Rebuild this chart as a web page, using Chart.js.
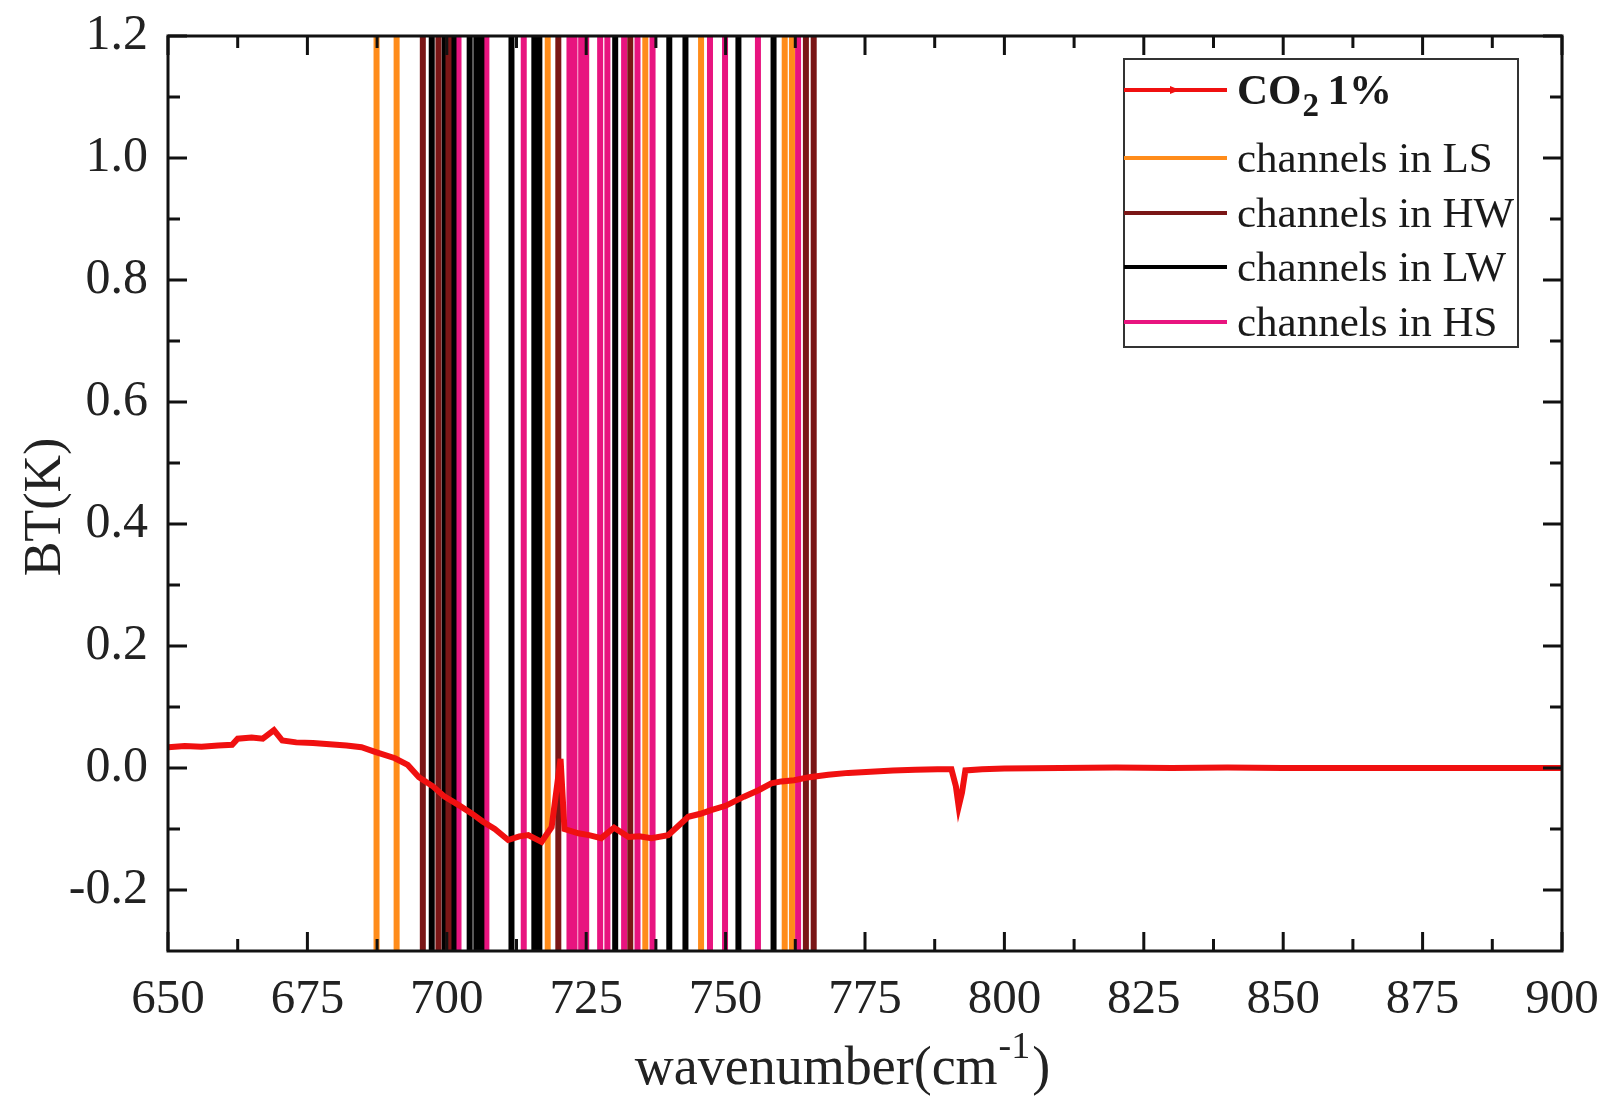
<!DOCTYPE html>
<html lang="en">
<head>
  <meta charset="UTF-8">
  <script src="https://cdn.jsdelivr.net/npm/chart.js@4.4.1/dist/chart.umd.min.js"></script>
  <title>CO2 1% channels</title>
  <style>
    html, body { margin: 0; padding: 0; background: #fff; }
    #wrap { width: 1617px; height: 1117px; }
  </style>
</head>
<body>
  <div id="wrap"><canvas id="myChart" width="1617" height="1117"></canvas></div>
  <script>
    // tick labels
    const xTicks = [650, 675, 700, 725, 750, 775, 800, 825, 850, 875, 900]
    const yTicks = [-0.2, 0.0, 0.2, 0.4, 0.6, 0.8, 1.0, 1.2]

    // CO2 1% curve
    const co2X = [650, 653, 656, 659, 661.5, 662.5, 665, 667, 669, 670.5, 673, 676, 679, 682, 684.7,
      687, 690.7, 693, 695, 697.5, 699.6, 702, 704.4, 706.5, 708.6, 711, 713, 714.6, 717, 718.8,
      720.4, 721.1, 723.6, 725.5, 727.7, 730, 732.6, 734.5, 736.7, 739.7, 741.5, 743.3, 745.5, 747.4,
      750, 753.3, 756, 758.2, 760, 762.3, 765, 768.4, 772, 776, 780, 784, 788, 790.5, 791.3, 791.8,
      792.4, 793, 796, 800, 810, 820, 830, 840, 850, 860, 870, 880, 890, 900]
    const co2Y = [0.034, 0.036, 0.035, 0.037, 0.038, 0.048, 0.050, 0.048, 0.062, 0.045, 0.042, 0.041, 0.039, 0.037, 0.034,
      0.027, 0.016, 0.005, -0.015, -0.030, -0.047, -0.060, -0.074, -0.088, -0.100, -0.118, -0.112, -0.110, -0.121, -0.097,
      0.015, -0.100, -0.107, -0.110, -0.115, -0.098, -0.113, -0.112, -0.115, -0.110, -0.095, -0.080, -0.075, -0.069,
      -0.062, -0.047, -0.036, -0.025, -0.022, -0.020, -0.015, -0.011, -0.008, -0.006, -0.004, -0.003, -0.002, -0.002, -0.030, -0.063,
      -0.040, -0.004, -0.002, -0.001, 0.000, 0.001, 0.000, 0.001, 0.000, 0.000, 0.000, 0.000, 0.000, 0.000]

    // channel wavenumbers per group
    const lsChannels = [687.4, 691.0, 718.1, 735.6, 745.6, 760.6, 761.9]
    const hwChannels = [695.7, 698.5, 700.3, 720.0, 732.9, 764.4, 765.8]
    const lwChannels = [697.3, 699.6, 701.2, 704.1, 705.3, 706.2, 711.6, 715.7, 716.6, 730.2, 739.9, 742.8, 752.3, 758.6]
    const hsChannels = [702.1, 707.1, 713.8, 722.0, 722.9, 724.1, 725.0, 727.5, 728.8, 731.8, 734.2, 736.9, 747.2, 749.9, 755.8, 763.0]

    const yMin = -0.3, yMax = 1.2
    const serif = "'Liberation Serif', 'Times New Roman', serif"

    function vlines(list) {
      let pts = []
      list.forEach(w => {
        pts.push({x: w, y: yMin}, {x: w, y: yMax}, {x: w, y: null})
      })
      return pts
    }

    const groups = [
      {label: 'channels in LS', color: '#ff8c1a', data: lsChannels},
      {label: 'channels in HW', color: '#7a1616', data: hwChannels},
      {label: 'channels in LW', color: '#000000', data: lwChannels},
      {label: 'channels in HS', color: '#e8147f', data: hsChannels}
    ]

    let datasets = [{
      label: 'CO2 1%',
      data: co2X.map((x, i) => ({x: x, y: co2Y[i]})),
      borderColor: '#f01010',
      borderWidth: 6,
      pointRadius: 0,
      tension: 0
    }]
    groups.forEach(g => {
      datasets.push({
        label: g.label,
        data: vlines(g.data),
        borderColor: g.color,
        borderWidth: 6,
        pointRadius: 0,
        spanGaps: false
      })
    })

    // frame, inward ticks, axis titles and the boxed legend
    const decor = {
      id: 'decor',
      afterDatasetsDraw(chart) {
        const ctx = chart.ctx
        const xs = chart.scales.x, ys = chart.scales.y
        const a = chart.chartArea
        ctx.save()
        ctx.strokeStyle = '#111'
        ctx.lineWidth = 3
        ctx.strokeRect(a.left, a.top, a.right - a.left, a.bottom - a.top)

        ctx.beginPath()
        for (let i = 0; i < xTicks.length; i++) {
          let px = xs.getPixelForValue(xTicks[i])
          ctx.moveTo(px, a.bottom); ctx.lineTo(px, a.bottom - 19)
          ctx.moveTo(px, a.top); ctx.lineTo(px, a.top + 19)
          if (i < xTicks.length - 1) {
            let mx = xs.getPixelForValue((xTicks[i] + xTicks[i + 1]) / 2)
            ctx.moveTo(mx, a.bottom); ctx.lineTo(mx, a.bottom - 12)
            ctx.moveTo(mx, a.top); ctx.lineTo(mx, a.top + 12)
          }
        }
        let yAll = [yMin].concat(yTicks)
        for (let i = 0; i < yAll.length; i++) {
          let py = ys.getPixelForValue(yAll[i])
          if (yTicks.includes(yAll[i])) {
            ctx.moveTo(a.left, py); ctx.lineTo(a.left + 19, py)
            ctx.moveTo(a.right, py); ctx.lineTo(a.right - 19, py)
          }
          if (i < yAll.length - 1) {
            let my = ys.getPixelForValue(yAll[i] + 0.1)
            ctx.moveTo(a.left, my); ctx.lineTo(a.left + 12, my)
            ctx.moveTo(a.right, my); ctx.lineTo(a.right - 12, my)
          }
        }
        ctx.stroke()
        ctx.restore()
      },
      afterDraw(chart) {
        const ctx = chart.ctx
        ctx.save()
        ctx.fillStyle = '#222'

        // x title with superscript
        ctx.font = '54px ' + serif
        ctx.textBaseline = 'alphabetic'
        let t1 = 'wavenumber(cm', sup = '-1', t2 = ')'
        let w1 = ctx.measureText(t1).width
        let w3 = ctx.measureText(t2).width
        ctx.font = '38px ' + serif
        let w2 = ctx.measureText(sup).width
        let x0 = 841 - (w1 + w2 + w3) / 2
        ctx.font = '54px ' + serif
        ctx.fillText(t1, x0, 1084)
        ctx.font = '38px ' + serif
        ctx.fillText(sup, x0 + w1 + 1, 1058)
        ctx.font = '54px ' + serif
        ctx.fillText(t2, x0 + w1 + w2 + 3, 1084)

        // y title
        ctx.font = '52px ' + serif
        ctx.translate(46, 507)
        ctx.rotate(-Math.PI / 2)
        ctx.textAlign = 'center'
        ctx.textBaseline = 'middle'
        ctx.fillText('BT(K)', 0, 0)
        ctx.restore()

        // legend box
        ctx.save()
        ctx.fillStyle = '#fff'
        ctx.fillRect(1124, 59, 394, 288)
        ctx.strokeStyle = '#333'
        ctx.lineWidth = 2
        ctx.strokeRect(1124, 59, 394, 288)

        const rows = [90, 158, 213, 267, 322]
        ctx.lineWidth = 4
        ctx.strokeStyle = '#f01010'
        ctx.beginPath(); ctx.moveTo(1124, rows[0]); ctx.lineTo(1227, rows[0]); ctx.stroke()
        ctx.fillStyle = '#f01010'
        ctx.beginPath(); ctx.moveTo(1170, rows[0] - 4); ctx.lineTo(1180, rows[0]); ctx.lineTo(1170, rows[0] + 4); ctx.fill()

        ctx.fillStyle = '#1a1a1a'
        ctx.textBaseline = 'alphabetic'
        ctx.font = 'bold 43px ' + serif
        ctx.fillText('CO', 1237, rows[0] + 14)
        let wco = ctx.measureText('CO').width
        ctx.font = 'bold 33px ' + serif
        ctx.fillText('2', 1237 + wco + 1, rows[0] + 26)
        ctx.font = 'bold 43px ' + serif
        ctx.fillText('1%', 1237 + wco + 26, rows[0] + 14)

        groups.forEach((g, i) => {
          let y = rows[i + 1]
          ctx.strokeStyle = g.color
          ctx.beginPath(); ctx.moveTo(1124, y); ctx.lineTo(1227, y); ctx.stroke()
          ctx.font = '43px ' + serif
          ctx.fillStyle = '#1a1a1a'
          ctx.fillText(g.label, 1237, y + 14)
        })
        ctx.restore()
      }
    }

    const ctx = document.getElementById('myChart').getContext('2d')
    const myChart = new Chart(ctx, {
      type: 'line',
      data: { datasets: datasets },
      options: {
        responsive: false,
        animation: false,
        layout: { padding: { top: 36, right: 55, left: 0, bottom: 0 } },
        plugins: { legend: { display: false }, tooltip: { enabled: false } },
        scales: {
          x: {
            type: 'linear',
            min: 650,
            max: 900,
            afterBuildTicks: s => { s.ticks = xTicks.map(v => ({value: v})) },
            afterFit: s => { s.height = 166; s.paddingLeft = 0; s.paddingRight = 0 },
            grid: { display: false, drawTicks: false },
            border: { display: false },
            ticks: {
              autoSkip: false,
              maxRotation: 0,
              padding: 20,
              color: '#222',
              font: { family: serif, size: 49 }
            }
          },
          y: {
            type: 'linear',
            min: yMin,
            max: yMax,
            afterBuildTicks: s => { s.ticks = yTicks.map(v => ({value: v})) },
            afterFit: s => { s.width = 168; s.paddingTop = 0; s.paddingBottom = 0 },
            grid: { display: false, drawTicks: false },
            border: { display: false },
            ticks: {
              padding: 20,
              color: '#222',
              font: { family: serif, size: 50 },
              callback: v => v.toFixed(1)
            }
          }
        }
      },
      plugins: [decor]
    })
  </script>
</body>
</html>
